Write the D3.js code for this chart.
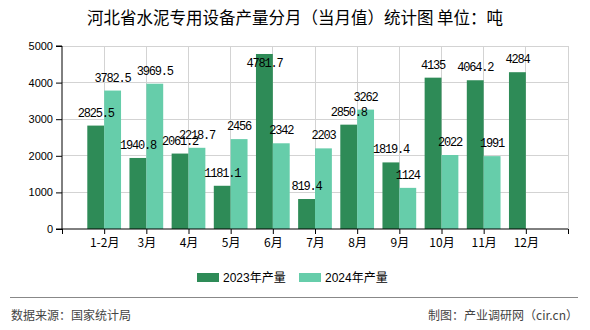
<!DOCTYPE html>
<html><head><meta charset="utf-8">
<script src="https://cdn.jsdelivr.net/npm/d3@7"></script>
<style>
html,body{margin:0;padding:0;background:#fff;}
svg{display:block;}
</style></head>
<body>
<svg id="chart" width="590" height="330"></svg>
<script>
const categories = ["1-2月","3月","4月","5月","6月","7月","8月","9月","10月","11月","12月"];
const values2023 = [2825.5,1940.8,2061.2,1181.1,4781.7,819.4,2850.8,1819.4,4135,4064.2,4284];
const values2024 = [3782.5,3969.5,2218.7,2456,2342,2203,3262,1124,2022,1991,null];
const yTicks = [0,1000,2000,3000,4000,5000];
const seriesNames = ["2023年产量","2024年产量"];
const colors = ["#2e8b57","#66cdaa"];
const title = "河北省水泥专用设备产量分月（当月值）统计图 单位：吨";
const sourceText = "数据来源：国家统计局";
const creditText = "制图：产业调研网（cir.cn）";

const svg = d3.select("#chart");
const L = 62, R = 568, T = 46, B = 229;
const x = d3.scaleLinear().domain([0, categories.length + 1]).range([L, R]);
const step = x(1) - x(0);
const bw = step * 0.4;
const y = d3.scaleLinear().domain([0, 5000]).range([B, T]);

// title
svg.append("text").attr("x", 295).attr("y", 24).attr("text-anchor", "middle")
  .attr("font-family", "'Noto Sans CJK SC', sans-serif").attr("font-size", 16.5)
  .attr("font-weight", 400).attr("fill", "#000").text(title);

// grid
const g = svg.append("g");
g.selectAll(".hg").data(yTicks.filter(d => d > 0)).join("line")
  .attr("x1", L).attr("x2", R).attr("y1", d => y(d)).attr("y2", d => y(d))
  .attr("stroke", "#d3d3d3").attr("stroke-width", 1).attr("shape-rendering", "crispEdges");
const vpos = d3.range(1, categories.length + 2);
g.selectAll(".vg").data(vpos).join("line")
  .attr("x1", d => x(d)).attr("x2", d => x(d)).attr("y1", T).attr("y2", B)
  .attr("stroke", "#d3d3d3").attr("stroke-width", 1).attr("shape-rendering", "crispEdges");

// bars
const series = [values2023, values2024];
series.forEach((vals, si) => {
  svg.append("g").selectAll("rect").data(vals.map((v, i) => ({v, i}))
      .filter(d => d.v != null)).join("rect")
    .attr("x", d => x(d.i + 1) - bw + si * bw)
    .attr("width", bw)
    .attr("y", d => y(d.v))
    .attr("height", d => B - y(d.v))
    .attr("fill", colors[si]);
});

// axes
const yAxis = d3.axisLeft(y).tickValues(yTicks).tickSize(6).tickPadding(3).tickFormat(d3.format("d"));
const ya = svg.append("g").attr("transform", `translate(${L},0)`).call(yAxis);
ya.selectAll("text").attr("font-family", "'Liberation Sans', Arial, sans-serif").attr("font-size", 11).attr("fill", "#000");
ya.selectAll("line,path").attr("stroke", "#000");
ya.select(".domain").attr("d", `M-6,${T}H0V${B}H-6`);

const xAxis = d3.axisBottom(x).tickValues(d3.range(0, categories.length + 2)).tickSize(5).tickPadding(4)
  .tickFormat(d => (d >= 1 && d <= categories.length) ? categories[d - 1] : "");
const xa = svg.append("g").attr("transform", `translate(0,${B})`).call(xAxis);
xa.selectAll("text").attr("font-family", "'Noto Sans CJK SC', sans-serif").attr("font-size", 12).attr("fill", "#000");
xa.selectAll("line,path").attr("stroke", "#000");
xa.select(".domain").attr("d", `M${L},0H${R}`);

// labels
series.forEach((vals, si) => {
  svg.append("g").selectAll("text").data(vals.map((v, i) => ({v, i}))
      .filter(d => d.v != null)).join("text")
    .attr("x", d => x(d.i + 1) - bw / 2 + si * bw)
    .attr("y", d => {
      const yy = y(d.v) - 9;
      return (yy - 8 < T) ? y(d.v) + 12.7 : yy;
    })
    .attr("text-anchor", "middle")
    .attr("font-family", "'Liberation Mono', monospace").attr("font-size", 12)
    .attr("letter-spacing", "-1.2px")
    .attr("fill", "#000")
    .text(d => d.v);
});

// legend
const lg = svg.append("g");
const lx = [197, 299];
seriesNames.forEach((n, i) => {
  lg.append("rect").attr("x", lx[i]).attr("y", 273).attr("width", 22).attr("height", 9).attr("fill", colors[i]);
  lg.append("text").attr("x", lx[i] + 26).attr("y", 282)
    .attr("font-family", "'Liberation Sans', 'Noto Sans CJK SC', sans-serif").attr("font-size", 12)
    .attr("fill", "#000").text(n);
});

// footer
svg.append("line").attr("x1", 10).attr("x2", 578).attr("y1", 297.5).attr("y2", 297.5)
  .attr("stroke", "#888").attr("stroke-width", 1);
svg.append("text").attr("x", 11).attr("y", 320)
  .attr("font-family", "'Noto Sans CJK SC', sans-serif").attr("font-size", 12).attr("fill", "#444").text(sourceText);
svg.append("text").attr("x", 578).attr("y", 320).attr("text-anchor", "end")
  .attr("font-family", "'Noto Sans CJK SC', sans-serif").attr("font-size", 12).attr("fill", "#444").text(creditText);
</script>
</body></html>
